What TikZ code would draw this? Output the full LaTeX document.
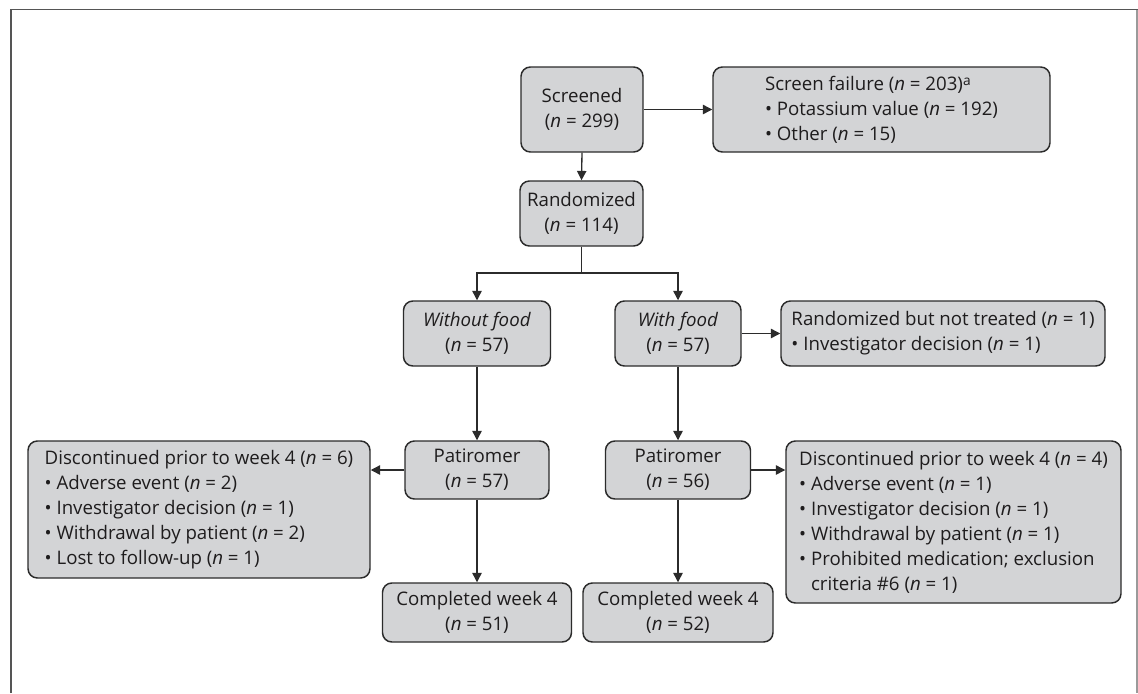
\documentclass[tikz,border=0pt]{standalone}
\usepackage{fontspec}
\setmainfont{Open Sans}
\usetikzlibrary{arrows.meta}
\newdimen\px \px=0.75pt
\definecolor{boxfill}{HTML}{D3D4D6}
\definecolor{boxline}{HTML}{2B2B2B}
\definecolor{txt}{HTML}{1E1C1D}
\definecolor{frameA}{HTML}{555555}
\definecolor{frameB}{HTML}{9A9A9A}
\newcommand{\supa}{\raisebox{0.45ex}{\fontsize{10.3}{10.3}\selectfont a}}
\begin{document}
\begin{tikzpicture}[x=0.75pt,y=-0.75pt,
  box/.style={draw=boxline, line width=1.1pt, fill=boxfill, rounded corners=7pt,
    text=txt, font=\fontsize{14}{18.75}\selectfont, inner sep=0pt, align=center},
  lbox/.style={box, align=left},
  arr/.style={draw=boxline, line width=1pt, -{Triangle[length=7pt,width=7pt]}},
  ln/.style={draw=boxline, line width=1pt}]
\useasboundingbox (0,0) rectangle (1138,693);
\draw[line width=1.3pt, frameA] (11,693) -- (11,9.5) -- (1138,9.5);
\draw[line width=1pt, frameB] (1137,9.5) -- (1137,693);

\node[box, minimum width=122\px, minimum height=85\px] (scr) at (582,109.5) {Screened\\(\textit{n} = 299)};
\node[lbox, minimum width=337\px, minimum height=85\px] (sf) at (881.5,109.5)
  {Screen failure (\textit{n} = 203)\supa\\• Potassium value (\textit{n} = 192)\\• Other (\textit{n} = 15)};
\node[box, minimum width=123\px, minimum height=65\px] (rand) at (581.5,213.5) {Randomized\\(\textit{n} = 114)};
\node[box, minimum width=147\px, minimum height=65\px] (wof) at (477,333.5) {\textit{Without food}\\(\textit{n} = 57)};
\node[box, minimum width=126\px, minimum height=65\px] (wf) at (678,333.5) {\textit{With food}\\(\textit{n} = 57)};
\node[lbox, minimum width=324\px, minimum height=65\px] (rbnt) at (943,333.5)
  {Randomized but not treated (\textit{n} = 1)\\• Investigator decision (\textit{n} = 1)};
\node[box, minimum width=144\px, minimum height=58\px] (p1) at (477,470) {Patiromer\\(\textit{n} = 57)};
\node[box, minimum width=145\px, minimum height=58\px] (p2) at (678,470) {Patiromer\\(\textit{n} = 56)};
\node[box, minimum width=189\px, minimum height=59\px] (c1) at (477,612.5) {Completed week 4\\(\textit{n} = 51)};
\node[box, minimum width=190\px, minimum height=59\px] (c2) at (678,612.5) {Completed week 4\\(\textit{n} = 52)};
\node[lbox, minimum width=342\px, minimum height=137\px] (d1) at (199,509.5)
  {Discontinued prior to week 4 (\textit{n} = 6)\\• Adverse event (\textit{n} = 2)\\• Investigator decision (\textit{n} = 1)\\• Withdrawal by patient (\textit{n} = 2)\\• Lost to follow-up (\textit{n} = 1)};
\node[lbox, minimum width=335\px, minimum height=162\px] (d2) at (953.5,522)
  {Discontinued prior to week 4 (\textit{n} = 4)\\• Adverse event (\textit{n} = 1)\\• Investigator decision (\textit{n} = 1)\\• Withdrawal by patient (\textit{n} = 1)\\• Prohibited medication; exclusion\\\hphantom{• }criteria \#6 (\textit{n} = 1)};

\draw[arr] (scr) -- (sf);
\draw[arr] (scr.south) -- (rand.north);
\coordinate (sp) at (581.5,273);
\draw[ln] (rand.south) -- (sp);
\draw[arr] (sp) -| (wof.north);
\draw[arr] (sp) -| (wf.north);
\draw[arr] (wf.east) -- (rbnt.west);
\draw[arr] (wof.south) -- (p1.north);
\draw[arr] (wf.south) -- (p2.north);
\draw[arr] (p1.west) -- (p1.west -| d1.east);
\draw[arr] (p2.east) -- (p2.east -| d2.west);
\draw[arr] (p1.south) -- (c1.north);
\draw[arr] (p2.south) -- (c2.north);
\end{tikzpicture}
\end{document}
